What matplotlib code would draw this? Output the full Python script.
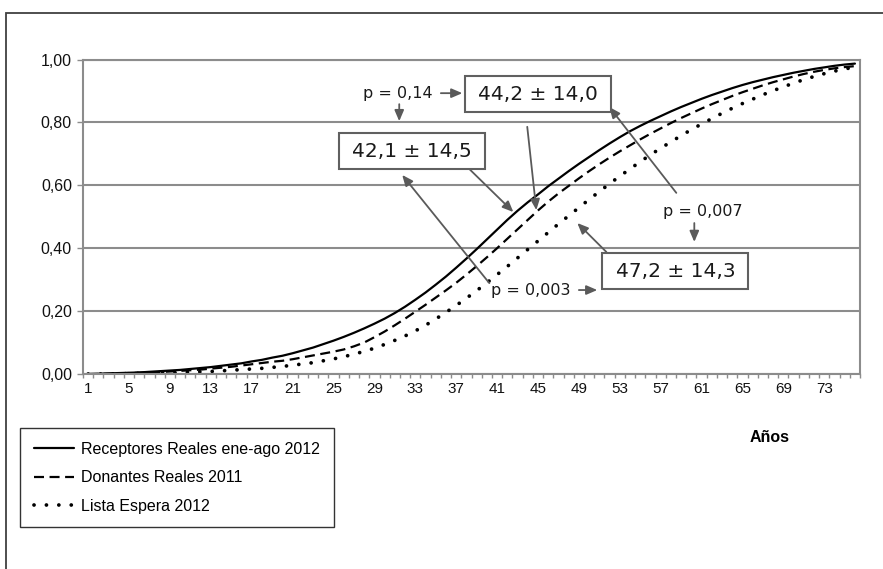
import matplotlib.pyplot as plt
from matplotlib.patches import Rectangle

# edad (categorias 1..76)
edades = list(range(1, 77))
tick_labels = [str(e) for e in range(1, 77, 4)]

receptores = [
    0.000, 0.001, 0.002, 0.003, 0.004, 0.005, 0.007, 0.009, 0.011, 0.013,
    0.016, 0.019, 0.022, 0.026, 0.030, 0.034, 0.040, 0.045, 0.052, 0.058,
    0.066, 0.075, 0.084, 0.095, 0.106, 0.118, 0.131, 0.145, 0.160, 0.176,
    0.194, 0.214, 0.236, 0.259, 0.284, 0.310, 0.338, 0.367, 0.397, 0.428,
    0.459, 0.490, 0.519, 0.546, 0.571, 0.597, 0.621, 0.645, 0.668, 0.690,
    0.712, 0.733, 0.753, 0.772, 0.789, 0.805, 0.820, 0.835, 0.849, 0.862,
    0.875, 0.887, 0.898, 0.909, 0.919, 0.928, 0.936, 0.944, 0.951, 0.958,
    0.964, 0.970, 0.975, 0.980, 0.984, 0.987,
]
donantes = [
    0.000, 0.000, 0.001, 0.002, 0.003, 0.004, 0.005, 0.006, 0.008, 0.010,
    0.012, 0.014, 0.017, 0.020, 0.023, 0.027, 0.031, 0.035, 0.039, 0.042,
    0.047, 0.053, 0.059, 0.065, 0.071, 0.078, 0.088, 0.100, 0.117, 0.135,
    0.155, 0.176, 0.198, 0.220, 0.243, 0.266, 0.290, 0.316, 0.343, 0.371,
    0.400, 0.430, 0.460, 0.490, 0.520, 0.548, 0.574, 0.598, 0.622, 0.645,
    0.667, 0.688, 0.708, 0.727, 0.746, 0.764, 0.781, 0.798, 0.814, 0.829,
    0.844, 0.858, 0.871, 0.884, 0.896, 0.907, 0.918, 0.928, 0.937, 0.946,
    0.954, 0.961, 0.967, 0.972, 0.976, 0.979,
]
lista_espera = [
    0.000, 0.000, 0.000, 0.001, 0.001, 0.002, 0.002, 0.003, 0.004, 0.005,
    0.006, 0.007, 0.008, 0.010, 0.012, 0.014, 0.016, 0.018, 0.021, 0.024,
    0.028, 0.032, 0.036, 0.042, 0.048, 0.055, 0.063, 0.072, 0.082, 0.094,
    0.107, 0.121, 0.137, 0.155, 0.175, 0.196, 0.218, 0.241, 0.265, 0.290,
    0.316, 0.342, 0.369, 0.396, 0.423, 0.450, 0.477, 0.503, 0.529, 0.555,
    0.580, 0.605, 0.629, 0.652, 0.675, 0.697, 0.718, 0.738, 0.758, 0.777,
    0.795, 0.812, 0.829, 0.845, 0.860, 0.874, 0.888, 0.901, 0.913, 0.925,
    0.936, 0.946, 0.955, 0.963, 0.970, 0.976,
]
series_names = ['Receptores Reales ene-ago 2012', 'Donantes Reales 2011', 'Lista Espera 2012']
medias = ['42,1 ± 14,5', '44,2 ± 14,0', '47,2 ± 14,3']
p_valores = ['p = 0,14', 'p = 0,007', 'p = 0,003']

plt.rcParams['font.family'] = ['Liberation Sans', 'DejaVu Sans']

fig = plt.figure(figsize=(8.83, 5.69), dpi=100)
ax = fig.add_axes([0.094, 0.3427, 0.880, 0.5527])

# marco exterior
fig.patches.append(Rectangle((6 / 883, -0.05), 1.2, 1 - 13 / 569 + 0.05, transform=fig.transFigure,
                             fill=False, edgecolor='#404040', lw=1.3))

grid_c = '#8c8c8c'
l1, = ax.plot(edades, receptores, color='black', lw=1.6, solid_capstyle='round')
l2, = ax.plot(edades, donantes, color='black', lw=1.6, dashes=(4.5, 2.5))
l3, = ax.plot(edades, lista_espera, color='black', lw=2.7, dashes=(0.01, 3.3), dash_capstyle='round')

ax.set_xlim(0.5, 76.5)
ax.set_ylim(0, 1)
ax.set_yticks([0, 0.2, 0.4, 0.6, 0.8, 1.0])
ax.set_yticklabels(['0,00', '0,20', '0,40', '0,60', '0,80', '1,00'])
ax.set_xticks(range(1, 77, 4))
ax.set_xticklabels(tick_labels)
ax.set_xticks([i + 0.5 for i in range(0, 77)], minor=True)
ax.tick_params(axis='x', which='major', length=0, pad=6, labelsize=11, labelcolor='#111111')
ax.tick_params(axis='x', which='minor', length=3, color=grid_c, width=1)
ax.tick_params(axis='y', length=4, color=grid_c, width=1, labelsize=11.5, labelcolor='#111111', pad=4)
ax.grid(axis='y', color=grid_c, lw=1.5)
ax.set_axisbelow(True)
for s in ax.spines.values():
    s.set_color(grid_c)
    s.set_linewidth(1.5)

# cajas de medias (centro en datos, tamano en pixeles)
txt_kw = dict(fontfamily='DejaVu Sans', color='#1a1a1a', ha='center', va='center')
bw, bh = 146 / 10.22, 36 / 314.5
for (cx, cy), m in zip([(32.70, 0.709), (45.03, 0.890), (58.44, 0.3275)], medias):
    ax.add_patch(Rectangle((cx - bw / 2, cy - bh / 2), bw, bh, fc='white', ec='#606060', lw=1.5, zorder=4))
    ax.text(cx, cy, m, fontsize=14.5, zorder=5, **txt_kw)

# valores p
ax.text(31.3, 0.893, p_valores[0], fontsize=11.5, **txt_kw)
ax.text(61.08, 0.518, p_valores[1], fontsize=11.5, **txt_kw)
ax.text(44.3, 0.267, p_valores[2], fontsize=11.5, **txt_kw)

arrow_c = '#5a5a5a'
flechas = [
    ((35.5, 0.893), (37.6, 0.893)),
    ((31.43, 0.858), (31.43, 0.804)),
    ((60.29, 0.480), (60.29, 0.420)),
    ((49.0, 0.267), (50.8, 0.267)),
    ((38.28, 0.652), (42.59, 0.515)),
    ((40.24, 0.289), (31.72, 0.633)),
    ((43.95, 0.786), (44.84, 0.521)),
    ((58.53, 0.576), (51.98, 0.849)),
    ((51.69, 0.388), (48.85, 0.480)),
]
for a, b in flechas:
    ax.annotate('', xy=b, xytext=a,
                arrowprops=dict(arrowstyle='-|>,head_length=0.65,head_width=0.28',
                                color=arrow_c, lw=1.3, shrinkA=0, shrinkB=0))

# leyenda
fig.legend([l1, l2, l3], series_names, loc='upper left',
           bbox_to_anchor=(20 / 883, 1 - 428 / 569), frameon=True, fancybox=False,
           edgecolor='black', fontsize=11.5, handlelength=2.5,
           labelspacing=0.85, borderpad=0.85, handletextpad=0.5, borderaxespad=0)

fig.text(770 / 883, 1 - 437 / 569, 'Años', fontsize=11.5, fontweight='bold',
         ha='center', va='center')

fig.savefig('out.png', dpi=100)
